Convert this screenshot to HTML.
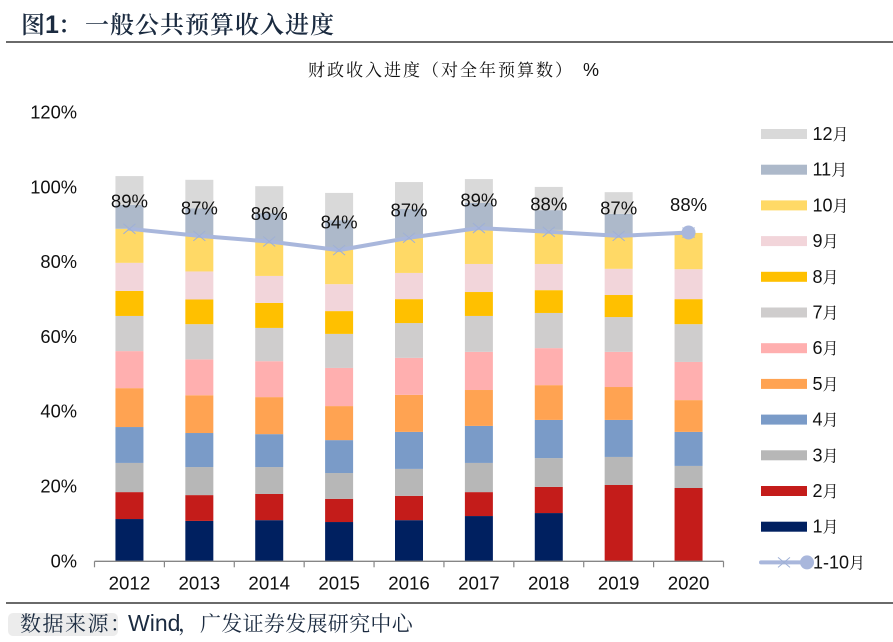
<!DOCTYPE html>
<html>
<head>
<meta charset="utf-8">
<style>
html,body{margin:0;padding:0;background:#fff;}
body{width:893px;height:642px;overflow:hidden;}
svg{display:block;}
text{font-family:"Liberation Sans","Noto Sans CJK SC",sans-serif;fill:#111;}
.cjk{font-family:"Noto Serif CJK SC","Liberation Serif",serif;}
</style>
</head>
<body>
<svg id="chart" xmlns="http://www.w3.org/2000/svg" width="893" height="642" viewBox="0 0 893 642">
  <text x="21" y="33" font-size="24" style="fill:#1b2b40"><tspan class="cjk" font-weight="600">图</tspan><tspan font-weight="700" font-size="25">1</tspan><tspan class="cjk" font-weight="600" x="58">&#xFF1A;</tspan><tspan class="cjk" font-weight="600" x="85" letter-spacing="1">一般公共预算收入进度</tspan></text>
  <line x1="6" y1="42" x2="893" y2="42" stroke="#111" stroke-width="1.3"/>
  <text x="308" y="76" font-size="17" letter-spacing="2"><tspan class="cjk">财政收入进度&#xFF08;对全年预算数&#xFF09;</tspan><tspan x="583" font-size="18" letter-spacing="0">%</tspan></text>
  <g id="plot"></g>
  <g id="legend"></g>
  <line x1="6" y1="603" x2="893" y2="603" stroke="#111" stroke-width="1.3"/>
  <rect x="8" y="613" width="110" height="23" rx="5" fill="#ececec"/>
  <text x="20" y="631" font-size="21" style="fill:#1b2b40"><tspan class="cjk" letter-spacing="1.5">数据来源&#xFF1A;</tspan><tspan x="128" font-size="23">Wind</tspan><tspan class="cjk" x="178">&#xFF0C;</tspan><tspan class="cjk" x="200" letter-spacing="0.3">广发证券发展研究中心</tspan></text>
</svg>
<script>
var years = ["2012","2013","2014","2015","2016","2017","2018","2019","2020"];
var yTicks = [0,20,40,60,80,100,120];
var monthNames = ["1月","2月","3月","4月","5月","6月","7月","8月","9月","10月","11月","12月"];
var monthColors = ["#002060","#c41c1a","#b7b7b7","#7a9bc8","#ffa352","#ffafaf","#cfcdcd","#ffc000","#f2d5da","#ffd966","#adb9ca","#d9d9d9"];
var jan = [11.3,10.8,11.0,10.5,11.0,12.1,12.9,0,0];
var feb = [7.2,6.9,7.0,6.2,6.5,6.4,7.0,20.4,19.6];
var mar = [7.8,7.5,7.2,6.9,7.2,7.8,7.7,7.5,5.9];
var apr = [9.6,9.1,8.8,8.8,9.9,9.9,10.2,9.9,9.1];
var may = [10.4,10.1,9.9,9.1,9.9,9.6,9.3,8.8,8.5];
var jun = [9.9,9.6,9.6,10.2,9.9,10.2,9.9,9.4,10.2];
var jul = [9.4,9.4,8.9,9.1,9.3,9.6,9.4,9.3,10.1];
var aug = [6.7,6.6,6.7,6.1,6.4,6.4,6.1,5.9,6.7];
var sep = [7.5,7.5,7.2,7.2,7.0,7.5,7.0,7.0,8.0];
var oct = [9.1,9.7,9.1,9.4,9.3,9.1,9.1,9.0,9.7];
var nov = [6.4,7.2,7.7,7.7,7.8,7.2,5.3,5.7,0];
var dec = [7.7,7.6,7.2,7.3,7.2,6.4,6.2,5.8,0];
var progress = [88.9,87.0,85.5,83.2,86.5,89.1,88.1,87.0,87.9];
var progressLabels = ["89%","87%","86%","84%","87%","89%","88%","87%","88%"];
var monthSeries = [jan,feb,mar,apr,may,jun,jul,aug,sep,oct,nov,dec];

var NS = "http://www.w3.org/2000/svg";
var plot = document.getElementById("plot");
var legend = document.getElementById("legend");
var axisLeft = 94.5, axisRight = 723.5, axisBottom = 561.3, unitPx = 3.74, barWidth = 28;
var bandWidth = (axisRight - axisLeft) / years.length;
function xScale(i){ return axisLeft + bandWidth * (i + 0.5); }
function yScale(v){ return axisBottom - unitPx * v; }
function make(tag, attrs, parent){
  var el = document.createElementNS(NS, tag);
  for (var k in attrs) el.setAttribute(k, attrs[k]);
  parent.appendChild(el);
  return el;
}

// y tick labels
yTicks.forEach(function(t){
  var el = make("text", {x:77, y:yScale(t)+6, "text-anchor":"end", "font-size":18.3}, plot);
  
  
  el.textContent = t + "%";
});

// stacked bars
years.forEach(function(year, i){
  var cumulative = 0;
  monthSeries.forEach(function(series, m){
    var v = series[i];
    if (v > 0) {
      var el = make("rect", {x:xScale(i)-barWidth/2, y:yScale(cumulative+v), width:barWidth, height:v*unitPx, fill:monthColors[m]}, plot);
      
      
    }
    cumulative += v;
  });
});

// x axis
var axisLine = make("line", {x1:axisLeft, y1:axisBottom, x2:axisRight, y2:axisBottom, stroke:"#868686", "stroke-width":1.3}, plot);


for (var b = 0; b <= years.length; b++) {
  var tickX = axisLeft + bandWidth * b;
  var tick = make("line", {x1:tickX, y1:axisBottom, x2:tickX, y2:axisBottom+6, stroke:"#868686", "stroke-width":1.2}, plot);
  
  
}
years.forEach(function(year, i){
  var el = make("text", {x:xScale(i), y:589.5, "text-anchor":"middle", "font-size":18.7}, plot);
  
  
  el.textContent = year;
});

// progress line
var linePoints = progress.map(function(v,i){ return xScale(i) + "," + yScale(v); }).join(" ");
var progressLine = make("polyline", {points:linePoints, fill:"none", stroke:"#a9b7dc", "stroke-width":4, "stroke-linejoin":"round", "stroke-linecap":"round"}, plot);


progress.forEach(function(v,i){
  var px = xScale(i), py = yScale(v);
  var mark = make("path", {d:"M"+(px-6)+" "+(py-5)+"L"+(px+6)+" "+(py+5)+"M"+(px+6)+" "+(py-5)+"L"+(px-6)+" "+(py+5), stroke:"#9fb0d6", "stroke-width":1, fill:"none"}, plot);
  
  
  var label = make("text", {x:px, y:py-21.5, "text-anchor":"middle", "font-size":18.5}, plot);
  
  
  label.textContent = progressLabels[i];
});
var lastIndex = progress.length - 1;
var lastDot = make("circle", {cx:xScale(lastIndex), cy:yScale(progress[lastIndex]), r:7, fill:"#a9b7dc"}, plot);



// legend
var legendTop = 134, legendStep = 35.7;
for (var r = 0; r < monthNames.length; r++) {
  var m = monthNames.length - 1 - r;
  var cy = legendTop + legendStep * r;
  var swatch = make("rect", {x:761, y:cy-5, width:46, height:10, fill:monthColors[m]}, legend);
  
  
  var entry = make("text", {x:812.5, y:cy+6, "font-size":18}, legend);
  
  
  var num = monthNames[m].replace("月","");
  entry.textContent = num;
  var unit = make("tspan", {"class":"cjk", "font-size":16}, entry);
  unit.textContent = "月";
}
var lineCy = legendTop + legendStep * monthNames.length;
var legendLine = make("line", {x1:761, y1:lineCy, x2:807, y2:lineCy, stroke:"#a9b7dc", "stroke-width":4, "stroke-linecap":"round"}, legend);


var legendX = make("path", {d:"M778 "+(lineCy-5)+"L790 "+(lineCy+5)+"M790 "+(lineCy-5)+"L778 "+(lineCy+5), stroke:"#9fb0d6", "stroke-width":1, fill:"none"}, legend);


var legendDot = make("circle", {cx:807, cy:lineCy, r:7, fill:"#a9b7dc"}, legend);


var lineEntry = make("text", {x:813, y:lineCy+6, "font-size":18}, legend);


lineEntry.textContent = "1-10";
var lineUnit = make("tspan", {"class":"cjk", "font-size":16}, lineEntry);
lineUnit.textContent = "月";
</script>
</body>
</html>
